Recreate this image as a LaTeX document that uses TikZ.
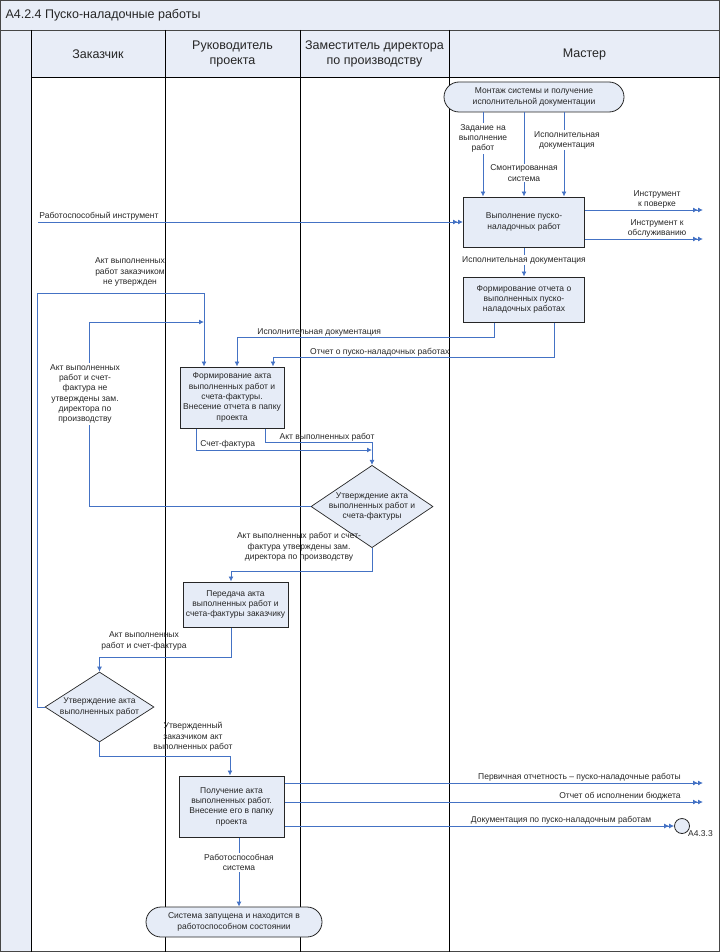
\documentclass[tikz,border=0pt]{standalone}
\usepackage{fontspec}
\setmainfont{Liberation Sans}
\usetikzlibrary{arrows.meta,shapes.geometric}
\definecolor{lanefill}{RGB}{232,237,247}
\definecolor{boxfill}{RGB}{230,236,247}
\definecolor{flowblue}{RGB}{68,114,196}
\definecolor{framegray}{RGB}{70,70,70}

\begin{document}
\begin{tikzpicture}[x=1pt,y=-1pt,
  txt/.style={font=\fontsize{8.5}{10.3}\selectfont,align=center,text=black!85},
  head/.style={font=\fontsize{12.5}{14.5}\selectfont,align=center,text=black!85},
  proc/.style={txt,draw=black!85,line width=1pt,fill=boxfill,inner sep=0pt},
  term/.style={proc,rounded corners=15pt,line width=0.8pt},
  decide/.style={txt,diamond,draw=black!85,line width=0.7pt,fill=boxfill,inner sep=-8pt},
  lbl/.style={txt,inner sep=1pt},
  flow/.style={draw=flowblue,line width=0.9pt,-{Latex[length=5pt,width=5pt]}},
  flowout/.style={draw=flowblue,line width=0.9pt,-{Latex[length=5pt,width=5pt]Latex[length=5pt,width=5pt]}}]
  \useasboundingbox (0,0) rectangle (721,952);
  \fill[lanefill] (0,0) rectangle (720,30);
  \fill[lanefill] (0,30) rectangle (31,952);
  \fill[lanefill] (31,30) rectangle (720,77);
  \draw[framegray,line width=1pt] (0.5,0.5) rectangle (719.5,951.5);
  \draw[framegray,line width=0.8pt] (0,30) -- (720,30);
  \draw[line width=0.8pt] (31,30) -- (31,952);
  \draw[line width=0.8pt] (31,77) -- (720,77);
  \foreach \x in {165,300,449}
    \draw[line width=0.8pt] (\x,30) -- (\x,952);

  \node[head,anchor=west] (title) at (2,15) {A4.2.4 Пуско-наладочные работы};
  \node[head] (hcust) at (98,54) {Заказчик};
  \node[head] (hlead) at (232.5,54) {Руководитель\\проекта};
  \node[head] (hdep) at (374.5,54) {Заместитель директора\\по производству};
  \node[head] (hmaster) at (584.5,54) {Мастер};

  \node[term,minimum width=180pt,minimum height=30pt] (start) at (534,97) {Монтаж системы и получение\\исполнительной документации};
  \node[proc,minimum width=121pt,minimum height=50pt] (work) at (524,222) {Выполнение пуско-\\наладочных работ};
  \node[proc,minimum width=121pt,minimum height=45pt] (report) at (524,299.5) {Формирование отчета о\\выполненных пуско-\\наладочных работах};
  \node[proc,minimum width=104pt,minimum height=61pt] (act) at (232,397.5) {Формирование акта\\выполненных работ и\\счета-фактуры.\\Внесение отчета в папку\\проекта};
  \node[decide,minimum width=122pt,minimum height=71pt] (check) at (372,506.5) {Утверждение акта\\выполненных работ и\\счета-фактуры};
  \node[proc,minimum width=105pt,minimum height=45pt] (transfer) at (235.5,604.5) {Передача акта\\выполненных работ и\\счета-фактуры заказчику};
  \node[decide,minimum width=109pt,minimum height=70pt] (approve) at (99.5,707) {Утверждение акта\\выполненных работ};
  \node[proc,minimum width=105pt,minimum height=61pt] (receive) at (231.5,806.5) {Получение акта\\выполненных работ.\\Внесение его в папку\\проекта};
  \node[term,minimum width=176pt,minimum height=30pt] (finish) at (234,922) {Система запущена и находится в\\работоспособном состоянии};
  \node[circle,draw=black!85,fill=boxfill,line width=0.8pt,minimum size=15pt,inner sep=0pt] (ref) at (682,826) {};
  \node[lbl,anchor=west] (reflbl) at (687,834) {A4.3.3};

  \coordinate (toolin) at (38,222);
  \coordinate (out1) at (703,210);
  \coordinate (out2) at (703,239);
  \coordinate (out3) at (703,783);
  \coordinate (out4) at (703,802);
  \coordinate (loopA) at (37,293);
  \coordinate (loopB) at (89,322);
  \coordinate (joinB) at (204,322);

  \draw[flow] ([xshift=-51pt]start.south) -- ([xshift=-41pt]work.north)
    node[lbl,fill=white,pos=0.31] (ltask) {Задание на\\выполнение\\работ};
  \draw[flow] ([xshift=-10pt]start.south) -- (work.north)
    node[lbl,fill=white,pos=0.72] (lsys) {Смонтированная\\система};
  \draw[flow] ([xshift=30pt]start.south) -- ([xshift=40pt]work.north)
    node[lbl,fill=white,pos=0.33,xshift=3pt] (ldocs) {Исполнительная\\документация};
  \draw[flowout] (toolin) -- (work.west)
    node[lbl,pos=0,anchor=south west] (ltool) {Работоспособный инструмент};
  \draw[flowout] ([yshift=12pt]work.east) -- (out1)
    node[lbl,above,pos=0.61] (lcal) {Инструмент\\к поверке};
  \draw[flowout] ([yshift=-17pt]work.east) -- (out2)
    node[lbl,above,pos=0.61] (lserv) {Инструмент к\\обслуживанию};
  \draw[flow] (work.south) -- (report.north)
    node[lbl,fill=white,pos=0.43] (ldocs2) {Исполнительная документация};
  \draw[flow] ([xshift=-30pt]report.south) -- ++(0,15) -| ([xshift=5pt]act.north)
    node[lbl,above,pos=0.34] (ldocs3) {Исполнительная документация};
  \draw[flow] ([xshift=30pt]report.south) -- ++(0,35) -| ([xshift=41pt]act.north)
    node[lbl,above,pos=0.31] (lrep) {Отчет о пуско-наладочных работах};
  \draw[flow] (approve.west) -| (loopA) -| ([xshift=-28pt]act.north);
  \node[lbl] (lrejA) at (130,272) {Акт выполненных\\работ заказчиком\\не утвержден};
  \draw[flow] (check.west) -| (loopB) -- (joinB);
  \node[lbl,fill=white] (lrejB) at (85,394) {Акт выполненных\\работ и счет-\\фактура не\\утверждены зам.\\директора по\\производству};
  \draw[flow] ([xshift=33pt]act.south) -- ++(0,14) -| (check.north)
    node[lbl,above,pos=0.29] (lact) {Акт выполненных работ};
  \draw[flow] ([xshift=-36pt]act.south) |- ([yshift=15pt]check.north)
    node[lbl,above,pos=0.59] (linv) {Счет-фактура};
  \draw[flow] (check.south) -- ++(0,23) -| ([xshift=-4.5pt]transfer.north);
  \node[lbl] (lok) at (299,547) {Акт выполненных работ и счет-\\фактура утверждены зам.\\директора по производству};
  \draw[flow] ([xshift=-4.5pt]transfer.south) -- ++(0,30) -| (approve.north);
  \node[lbl] (lpair) at (144,641) {Акт выполненных\\работ и счет-фактура};
  \draw[flow] (approve.south) -- ++(0,14) -| ([xshift=-1.5pt]receive.north);
  \node[lbl] (lsigned) at (193,737) {Утвержденный\\заказчиком акт\\выполненных работ};
  \draw[flowout] ([yshift=23.5pt]receive.east) -- (out3)
    node[lbl,anchor=south east,pos=0.95] (lprim) {Первичная отчетность – пуско-наладочные работы};
  \draw[flowout] ([yshift=4.5pt]receive.east) -- (out4)
    node[lbl,anchor=south east,pos=0.95] (lbudget) {Отчет об исполнении бюджета};
  \draw[flowout] ([yshift=-19.5pt]receive.east) -- (ref.west)
    node[lbl,anchor=south east,pos=0.945] (lcomm) {Документация по пуско-наладочным работам};
  \draw[flow] ([xshift=7.5pt]receive.south) -- ([xshift=5pt]finish.north)
    node[lbl,fill=white,pos=0.36] (lready) {Работоспособная\\система};
\end{tikzpicture}
\end{document}
